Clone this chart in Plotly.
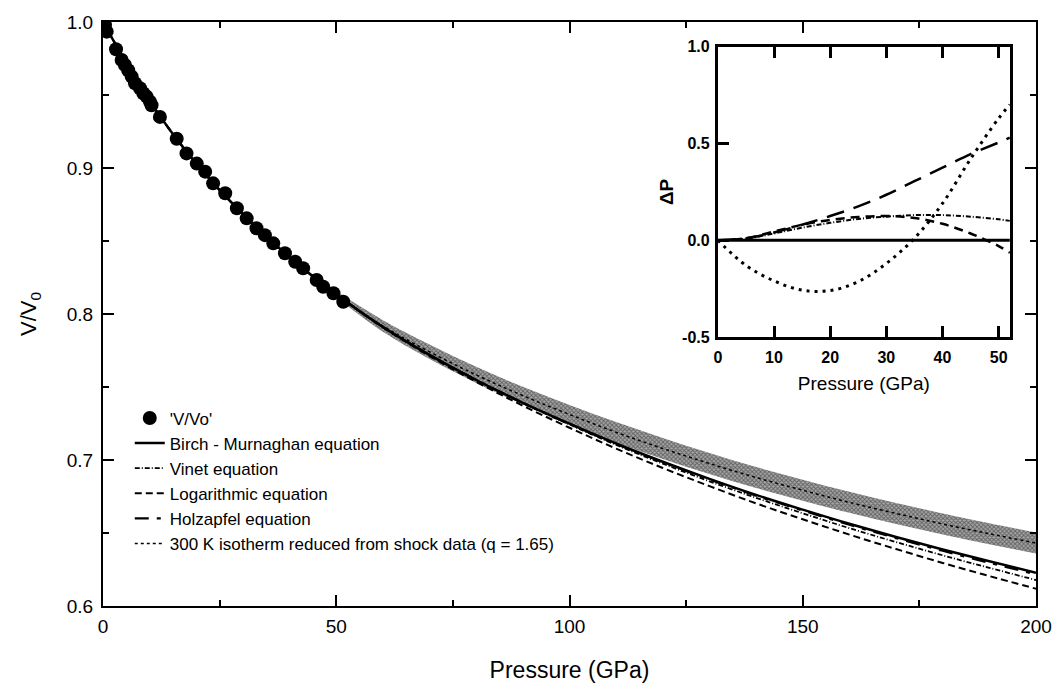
import plotly.graph_objects as go

# ---------------- data ----------------
# measured points (P in GPa, V/V0)
pts_P = [0.43, 0.79, 2.79, 4.0, 4.7, 5.4, 6.15, 6.86, 7.93, 8.64, 9.36, 10.07, 10.4,
         12.2, 15.8, 17.9, 20.1, 21.9, 23.6, 26.2, 28.7, 30.8, 32.9, 34.7, 36.5,
         39.0, 41.2, 42.9, 45.8, 47.2, 49.4, 51.5]
pts_V = [0.998, 0.9934, 0.9813, 0.974, 0.9705, 0.967, 0.9626, 0.958, 0.9546, 0.9512,
         0.9489, 0.9454, 0.943, 0.935, 0.920, 0.910, 0.903, 0.8975, 0.8895, 0.8827,
         0.8724, 0.8655, 0.8587, 0.854, 0.8484, 0.8416, 0.8358, 0.8313, 0.8233,
         0.8187, 0.8142, 0.8084]

eos_P = [0, 10, 20, 30, 40, 50, 60, 70, 80, 90, 100, 110, 120, 130, 140, 150,
         160, 170, 180, 190, 200]
bm_V = [1.0, 0.9458, 0.9030, 0.8684, 0.8389, 0.8135, 0.7911, 0.7720, 0.7548, 0.7392,
        0.7249, 0.7113, 0.6988, 0.6871, 0.6761, 0.6660, 0.6563, 0.6473, 0.6387,
        0.6306, 0.6228]
vinet_V = [1.0, 0.9458, 0.9030, 0.8684, 0.8389, 0.8135, 0.7911, 0.7720, 0.7548, 0.7389,
           0.7243, 0.7103, 0.6975, 0.6854, 0.6741, 0.6635, 0.6533, 0.6438, 0.6347,
           0.6261, 0.6178]
log_V = [1.0, 0.9458, 0.9030, 0.8684, 0.8389, 0.8135, 0.7908, 0.7712, 0.7535, 0.7372,
         0.7221, 0.7078, 0.6945, 0.6821, 0.6703, 0.6594, 0.6489, 0.6390, 0.6295,
         0.6205, 0.6118]
holz_V = [1.0, 0.9458, 0.9030, 0.8684, 0.8389, 0.8135, 0.7911, 0.7720, 0.7548, 0.7391,
          0.7247, 0.7110, 0.6985, 0.6867, 0.6756, 0.6654, 0.6556, 0.6465, 0.6378,
          0.6296, 0.6217]

shock_P = [50, 60, 70, 80, 90, 100, 110, 120, 130, 140, 150, 160, 170, 180, 190, 200]
shock_V = [0.8135, 0.7918, 0.7741, 0.7583, 0.7441, 0.7312, 0.7190, 0.7079, 0.6976,
           0.6880, 0.6793, 0.6710, 0.6634, 0.6562, 0.6495, 0.6431]
shock_hi = [0.8155, 0.7958, 0.7791, 0.7638, 0.7501, 0.7377, 0.7260, 0.7151, 0.7048,
            0.6952, 0.6865, 0.6782, 0.6706, 0.6634, 0.6567, 0.6503]
shock_lo = [0.8115, 0.7878, 0.7691, 0.7528, 0.7381, 0.7247, 0.7120, 0.7007, 0.6904,
            0.6808, 0.6721, 0.6638, 0.6562, 0.6490, 0.6423, 0.6359]

# inset: pressure difference
ins_P = [0, 5, 10, 15, 20, 25, 30, 35, 40, 45, 50, 52]
dP_bm = [0, 0, 0, 0, 0, 0, 0, 0, 0, 0, 0, 0]
dP_vinet = [0, 0.008, 0.035, 0.065, 0.09, 0.11, 0.122, 0.13, 0.13, 0.122, 0.108, 0.10]
dP_log = [0, 0.01, 0.045, 0.08, 0.105, 0.12, 0.125, 0.115, 0.085, 0.035, -0.03, -0.065]
dP_holz = [0, 0.01, 0.04, 0.08, 0.125, 0.175, 0.235, 0.305, 0.375, 0.445, 0.505, 0.53]
dP_shock = [0, -0.13, -0.21, -0.258, -0.26, -0.214, -0.12, 0.01, 0.19, 0.42, 0.63, 0.70]

names = ["'V/Vo'", "Birch - Murnaghan equation", "Vinet equation",
         "Logarithmic equation", "Holzapfel equation",
         "300 K isotherm reduced from shock data (q = 1.65)"]

FONT = "Liberation Sans, Arial, Helvetica, sans-serif"
DASH_VINET = "5px,2px,1px,2px"
DASH_LOG = "7px,4px"
DASH_HOLZ = "14px,8px,4px,8px"

fig = go.Figure()

# shock band
fig.add_trace(go.Scatter(x=shock_P, y=shock_lo, mode="lines", line=dict(width=0, shape="spline"),
                         showlegend=False, hoverinfo="skip"))
fig.add_trace(go.Scatter(x=shock_P, y=shock_hi, mode="lines", line=dict(width=0, shape="spline"),
                         fill="tonexty", fillcolor="#8a8a8a",
                         fillpattern=dict(shape="x", size=3, solidity=0.55,
                                          fgcolor="#1e1e1e", bgcolor="#a8a8a8"),
                         showlegend=False, hoverinfo="skip"))

fig.add_trace(go.Scatter(x=pts_P, y=pts_V, mode="markers", name=names[0],
                         marker=dict(symbol="circle", size=14, color="black")))
fig.add_trace(go.Scatter(x=eos_P, y=bm_V, mode="lines", name=names[1],
                         line=dict(color="black", width=2.5, shape="spline")))
fig.add_trace(go.Scatter(x=eos_P, y=vinet_V, mode="lines", name=names[2],
                         line=dict(color="black", width=1.8, dash=DASH_VINET, shape="spline")))
fig.add_trace(go.Scatter(x=eos_P, y=log_V, mode="lines", name=names[3],
                         line=dict(color="black", width=2, dash=DASH_LOG, shape="spline")))
fig.add_trace(go.Scatter(x=eos_P, y=holz_V, mode="lines", name=names[4],
                         line=dict(color="black", width=2.2, dash=DASH_HOLZ, shape="spline")))
fig.add_trace(go.Scatter(x=shock_P, y=shock_V, mode="lines", name=names[5],
                         line=dict(color="black", width=1.5, dash="dot", shape="spline")))

# inset traces
fig.add_trace(go.Scatter(x=ins_P, y=dP_bm, mode="lines", xaxis="x2", yaxis="y2", showlegend=False,
                         line=dict(color="black", width=3)))
fig.add_trace(go.Scatter(x=ins_P, y=dP_vinet, mode="lines", xaxis="x2", yaxis="y2", showlegend=False,
                         line=dict(color="black", width=2, dash=DASH_VINET, shape="spline")))
fig.add_trace(go.Scatter(x=ins_P, y=dP_log, mode="lines", xaxis="x2", yaxis="y2", showlegend=False,
                         line=dict(color="black", width=2.5, dash="9px,6px", shape="spline")))
fig.add_trace(go.Scatter(x=ins_P, y=dP_holz, mode="lines", xaxis="x2", yaxis="y2", showlegend=False,
                         line=dict(color="black", width=2.5, dash="18px,10px", shape="spline")))
fig.add_trace(go.Scatter(x=ins_P, y=dP_shock, mode="lines", xaxis="x2", yaxis="y2", showlegend=False,
                         line=dict(color="black", width=3, dash="3px,5px", shape="spline")))

fig.update_layout(
    width=1053, height=683,
    margin=dict(l=103, r=17, t=22, b=77, autoexpand=False),
    paper_bgcolor="white", plot_bgcolor="white",
    font=dict(family=FONT, color="black", size=17),
    legend=dict(x=0.0287, y=0.352, xanchor="left", yanchor="top", traceorder="normal",
                bgcolor="rgba(0,0,0,0)", font=dict(size=17), tracegroupgap=0,
                itemwidth=30),
    xaxis=dict(range=[0, 200], dtick=50, tick0=0, showline=True, linewidth=2, linecolor="black",
               mirror="ticks", ticks="inside", ticklen=11, tickwidth=1.5, tickcolor="black",
               showgrid=False, zeroline=False, tickfont=dict(size=19), ticklabelstandoff=2,
               automargin=False,
               minor=dict(ticks="inside", dtick=25, ticklen=6, tickwidth=1.5, tickcolor="black",
                          showgrid=False),
               title=dict(text="Pressure (GPa)", font=dict(size=23), standoff=27)),
    yaxis=dict(range=[0.6, 1.0], dtick=0.1, tick0=0.6, tickformat=".1f", showline=True,
               linewidth=2, linecolor="black", mirror="ticks", ticks="inside", ticklen=11,
               tickwidth=1.5, tickcolor="black", showgrid=False, zeroline=False,
               tickfont=dict(size=19), ticklabelstandoff=4, automargin=False,
               minor=dict(ticks="inside", dtick=0.05, ticklen=6, tickwidth=1.5,
                          tickcolor="black", showgrid=False),
               title=dict(text="V/V<sub>0</sub>", font=dict(size=22), standoff=24)),
    xaxis2=dict(domain=[0.659, 0.972], anchor="y2", range=[0, 52], dtick=10, tick0=0,
                showline=True, linewidth=3, linecolor="black", mirror="ticks",
                ticks="inside", ticklen=11, tickwidth=2.5, tickcolor="black",
                showgrid=False, zeroline=False, ticklabelstandoff=4, automargin=False,
                tickfont=dict(size=16, weight="bold"),
                title=dict(text="Pressure (GPa)", font=dict(size=19), standoff=12)),
    yaxis2=dict(domain=[0.4606, 0.9577], anchor="x2", range=[-0.5, 1.0],
                tickvals=[-0.5, 0, 0.5, 1.0], ticktext=["-0.5", "0.0", "0.5", "1.0"],
                showline=True, linewidth=3, linecolor="black", mirror=True,
                ticks="inside", ticklen=11, tickwidth=2.5, tickcolor="black",
                showgrid=False, zeroline=False, ticklabelstandoff=2, automargin=False,
                tickfont=dict(size=16, weight="bold"),
                title=dict(text="ΔP", font=dict(size=19, weight="bold"), standoff=4)),
)

fig.write_html("out.html", config={"displayModeBar": False},
               post_script="document.body.style.margin='0px';")
